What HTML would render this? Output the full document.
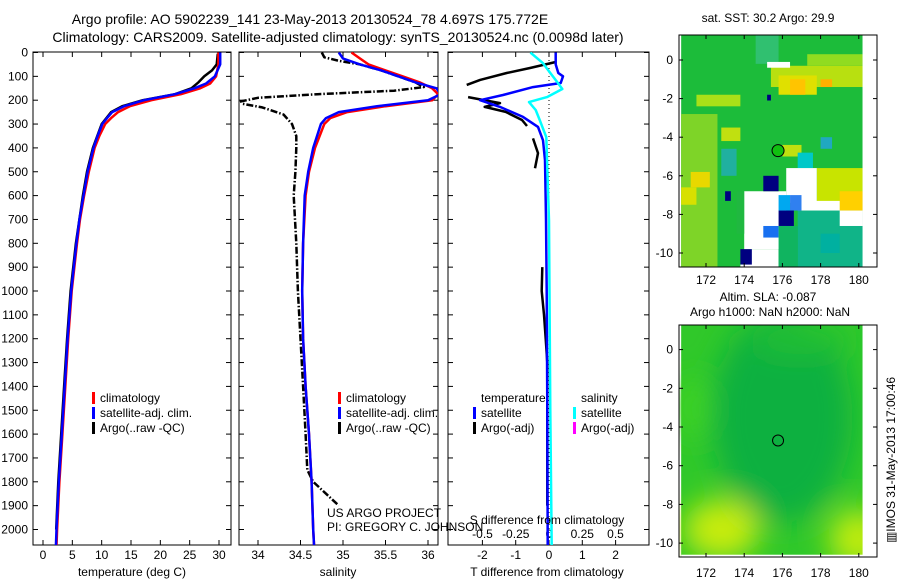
<!DOCTYPE html>
<html><head><meta charset="utf-8"><style>
body{margin:0;background:#fff}
svg{display:block;font-family:"Liberation Sans",sans-serif}
text{fill:#000}
</style></head><body>
<svg id="s" width="900" height="580" viewBox="0 0 900 580">
<defs>
<clipPath id="c1"><rect x="33" y="52" width="198" height="493"/></clipPath>
<clipPath id="c2"><rect x="239" y="52" width="199" height="493"/></clipPath>
<clipPath id="c3"><rect x="448" y="52" width="201" height="493"/></clipPath>
<clipPath id="cm1"><rect x="679" y="35" width="198" height="232"/></clipPath>
<clipPath id="cm2"><rect x="679" y="325" width="198" height="232"/></clipPath>
<filter id="blur" x="-50%" y="-50%" width="200%" height="200%"><feGaussianBlur stdDeviation="14"/></filter>
</defs>
<text x="310" y="24" font-size="14" text-anchor="middle">Argo profile: AO 5902239_141 23-May-2013 20130524_78 4.697S 175.772E</text>
<text x="338" y="42" font-size="14" text-anchor="middle">Climatology: CARS2009. Satellite-adjusted climatology: synTS_20130524.nc (0.0098d later)</text>
<g id="g1"></g>
<g id="g2"></g>
<g id="g3"></g>
<g id="m1"></g>
<g id="m2"></g>
<text x="768" y="22" font-size="12" text-anchor="middle">sat. SST: 30.2 Argo: 29.9</text>
<text x="768" y="301" font-size="12" text-anchor="middle">Altim. SLA: -0.087</text>
<text x="770" y="316" font-size="12" text-anchor="middle">Argo h1000: NaN h2000: NaN</text>
<text transform="translate(895,460) rotate(-90)" font-size="12" text-anchor="middle">▥IMOS 31-May-2013 17:00:46</text>
<text x="327" y="517" font-size="12">US ARGO PROJECT</text>
<text x="327" y="531" font-size="12">PI: GREGORY C. JOHNSON</text>
</svg>
<script>
// ---- data ----
const depthTicks=[0,100,200,300,400,500,600,700,800,900,1000,1100,1200,1300,1400,1500,1600,1700,1800,1900,2000];
const tempTicks=[0,5,10,15,20,25,30];
const salTicks=[34,34.5,35,35.5,36];
const salTickLabels=["34","34.5","35","35.5","36"];
const tdTicks=[-2,-1,0,1,2];
const sdTicks=[-0.5,-0.25,0,0.25,0.5];
const sdTickLabels=["-0.5","-0.25","0","0.25","0.5"];

const climTDepth=[0,50,100,130,150,175,200,225,250,275,300,350,400,500,600,700,800,1000,1200,1400,1600,1800,2000,2070];
const climT=[29.9,29.9,29.5,28.5,26.8,23.5,18.5,14.8,12.8,11.6,10.6,9.6,8.8,7.8,7.0,6.3,5.8,4.9,4.3,3.8,3.3,2.8,2.4,2.3];
const satT=[30.2,30.2,29.3,27.8,25.8,22.5,17.2,13.8,11.8,10.9,10.1,9.3,8.6,7.6,6.9,6.2,5.7,4.8,4.2,3.7,3.2,2.7,2.3,2.2];
const argoTDepth=[5,50,75,100,125,150,175,200,225,250,300,400,500,600,800,1000,1200,1400,1600,1800,2000];
const argoT=[29.8,29.6,28.8,27.5,26.5,25.3,22.5,17.0,13.5,11.6,10.0,8.5,7.5,6.8,5.6,4.7,4.1,3.6,3.1,2.6,2.25];

const climSDepth=[0,25,50,75,100,125,150,175,200,225,250,275,300,400,500,600,800,1000,1200,1400,1600,1800,2000,2070];
const climS=[35.1,35.2,35.3,35.5,35.7,35.9,36.05,36.12,36.05,35.5,35.05,34.85,34.78,34.67,34.6,34.56,34.53,34.52,34.53,34.56,34.6,34.63,34.65,34.66];
const satS=[34.95,35.0,35.2,35.45,35.65,35.85,36.1,36.15,36.0,35.4,34.95,34.8,34.74,34.65,34.59,34.55,34.53,34.52,34.53,34.56,34.6,34.63,34.65,34.66];
const argoSDepth=[0,20,35,50,75,100,125,145,160,175,190,205,215,230,260,300,350,400,500,600,800,1000,1200,1400,1600,1750,1800,1850,1900];
const argoS=[34.75,34.78,34.95,35.2,35.45,35.65,35.85,35.95,35.6,34.7,34.0,33.8,33.82,34.05,34.3,34.4,34.45,34.45,34.44,34.42,34.45,34.47,34.5,34.53,34.56,34.58,34.65,34.8,34.95];

const satTdDepth=[0,50,86,100,128,145,178,200,228,270,312,368,452,700,1000,1500,2070];
const satTd=[0.2,0.2,0.28,0.42,0.35,-0.48,-1.38,-2.07,-1.47,-0.78,-0.33,-0.18,-0.12,-0.09,-0.07,-0.05,-0.04];
const argoTdDepth=[40,65,86,115,136,160,187,212,228,249,283,308,340,360,422,485,520,900,1000,1100,1200,1300,1900];
const argoTd=[0.2,-0.57,-1.27,-2.07,-2.47,NaN,-2.43,-1.47,-1.93,-1.3,-0.81,-0.66,NaN,-0.48,-0.33,-0.42,NaN,-0.2,-0.22,-0.15,-0.1,-0.05,-0.05];
const satSdDepth=[0,45,86,123,153,187,208,241,283,355,704,1500,2070];
const satSd=[-0.14,-0.045,0.01,0.06,0.1,-0.015,-0.15,-0.1,-0.07,-0.02,0,0.01,0.02];

const lonTicks=[172,174,176,178,180];
const latTicks=[0,-2,-4,-6,-8,-10];
const argoLon=175.772, argoLat=-4.697;

// ---- helpers ----
const NS="http://www.w3.org/2000/svg";
function mk(p,tag,at,txt){const e=document.createElementNS(NS,tag);for(const k in at)e.setAttribute(k,at[k]);if(txt!==undefined)e.textContent=txt;p.appendChild(e);return e;}
const yD=d=>52.5+d*0.2385;
const xT=t=>43+t*5.867;
const xS=s=>258+(s-34)*85;
const xTd=t=>549+t*33.3;
const xSd=s=>549+s*133;
const lonX=l=>706+(l-172)*19.1;
const latY1=l=>60-l*19.3;
const latY2=l=>427-(l+4)*19.35;

function pathOf(depths,vals,fx){let d="",pen=false;for(let i=0;i<depths.length;i++){if(isNaN(vals[i])){pen=false;continue;}d+=(pen?"L":"M")+fx(vals[i]).toFixed(1)+","+yD(depths[i]).toFixed(1);pen=true;}return d;}

function frame(g,x0,x1,name){
  const r=mk(g,"rect",{x:x0,y:52,width:x1-x0,height:493,fill:"none",stroke:"#000","stroke-width":1});
  
  
}
function xticks(g,vals,labels,fx,x0,x1,ylab,name){
  vals.forEach((v,i)=>{const x=fx(v);
    mk(g,"line",{x1:x,x2:x,y1:545,y2:540,stroke:"#000"});mk(g,"line",{x1:x,x2:x,y1:52,y2:57,stroke:"#000"});
    if(ylab){const t=mk(g,"text",{x:x,y:ylab,"font-size":12,"text-anchor":"middle"},labels[i]);
      
      }
  });
}
function yticks(g,x0,x1,labels){
  depthTicks.forEach(d=>{const y=yD(d);
    mk(g,"line",{x1:x0,x2:x0+5,y1:y,y2:y,stroke:"#000"});mk(g,"line",{x1:x1,x2:x1-5,y1:y,y2:y,stroke:"#000"});
    if(labels){const t=mk(g,"text",{x:28,y:y+4,"font-size":12,"text-anchor":"end"},String(d));
      
      }
  });
}
function line(g,clip,depths,vals,fx,col,w,name,dash){
  const p=mk(g,"path",{d:pathOf(depths,vals,fx),fill:"none",stroke:col,"stroke-width":w,"clip-path":"url(#"+clip+")","stroke-linejoin":"round"});
  if(dash)p.setAttribute("stroke-dasharray",dash);
  
  
}
function legend(g,x,y,items){
  items.forEach((it,i)=>{const yy=y+i*15;
    if(it[1])mk(g,"rect",{x:x,y:yy-10,width:3,height:12,fill:it[1]});
    const t=mk(g,"text",{x:x+8,y:yy,"font-size":12},it[0]);
    
    
  });
}

// ---- panel 1 ----
const g1=document.getElementById("g1");
frame(g1,33,231,"temperature");
yticks(g1,33,231,true);
xticks(g1,tempTicks,tempTicks.map(String),xT,33,231,559,"temperature");
line(g1,"c1",argoTDepth,argoT,xT,"#000",2.5,"argo-temperature-line");
line(g1,"c1",climTDepth,climT,xT,"#f00",2.5,"climatology-temperature-line");
line(g1,"c1",climTDepth,satT,xT,"#00f",2.5,"satellite-temperature-line");
legend(g1,92,402,[["climatology","#f00"],["satellite-adj. clim.","#00f"],["Argo(..raw -QC)","#000"]]);
mk(g1,"text",{x:132,y:576,"font-size":12,"text-anchor":"middle"},"temperature (deg C)");

// ---- panel 2 ----
const g2=document.getElementById("g2");
frame(g2,239,438,"salinity");
yticks(g2,239,438,false);
xticks(g2,salTicks,salTickLabels,xS,239,438,559,"salinity");
line(g2,"c2",argoSDepth,argoS,xS,"#000",2.5,"argo-salinity-line","7,2,1.5,2");
line(g2,"c2",climSDepth,climS,xS,"#f00",2.5,"climatology-salinity-line");
line(g2,"c2",climSDepth,satS,xS,"#00f",2.5,"satellite-salinity-line");
legend(g2,338,402,[["climatology","#f00"],["satellite-adj. clim.","#00f"],["Argo(..raw -QC)","#000"]]);
mk(g2,"text",{x:338,y:576,"font-size":12,"text-anchor":"middle"},"salinity");

// ---- panel 3 ----
const g3=document.getElementById("g3");
frame(g3,448,649,"difference");
yticks(g3,448,649,false);
xticks(g3,tdTicks,tdTicks.map(String),xTd,448,649,559,"t-difference");
sdTicks.forEach((v,i)=>{const t=mk(g3,"text",{x:xSd(v),y:538,"font-size":12,"text-anchor":"middle"},sdTickLabels[i]);
  
  });
mk(g3,"line",{x1:xTd(0),x2:xTd(0),y1:52,y2:545,stroke:"#000","stroke-dasharray":"1,3"});
line(g3,"c3",argoTdDepth,argoTd,xTd,"#000",2.5,"argo-t-difference-line");
line(g3,"c3",satTdDepth,satTd,xTd,"#00f",2.5,"satellite-t-difference-line");
line(g3,"c3",satSdDepth,satSd,xSd,"#0ff",2.5,"satellite-s-difference-line");
legend(g3,473,402,[["temperature",null],["satellite","#00f"],["Argo(-adj)","#000"]]);
legend(g3,573,402,[["salinity",null],["satellite","#0ff"],["Argo(-adj)","#f0f"]]);
mk(g3,"text",{x:547,y:524,"font-size":12,"text-anchor":"middle"},"S difference from climatology");
mk(g3,"text",{x:547,y:576,"font-size":12,"text-anchor":"middle"},"T difference from climatology");

// ---- maps ----
function mapAxes(g,top,bot,latY,labY){
  const r=mk(g,"rect",{x:679,y:top,width:198,height:bot-top,fill:"none",stroke:"#000"});
  
  
  lonTicks.forEach(l=>{const x=lonX(l);mk(g,"line",{x1:x,x2:x,y1:top,y2:top+4,stroke:"#000"});mk(g,"line",{x1:x,x2:x,y1:bot,y2:bot-4,stroke:"#000"});
    const t=mk(g,"text",{x:x,y:labY,"font-size":12,"text-anchor":"middle"},String(l));
    
    });
  latTicks.forEach(l=>{const y=latY(l);mk(g,"line",{x1:679,x2:683,y1:y,y2:y,stroke:"#000"});mk(g,"line",{x1:877,x2:873,y1:y,y2:y,stroke:"#000"});
    const t=mk(g,"text",{x:673,y:y+4,"font-size":12,"text-anchor":"end"},String(l));
    
    });
}
function box(g,ly,lo0,lo1,la0,la1,col,clip){mk(g,"rect",{x:lonX(lo0),y:ly(la0),width:lonX(lo1)-lonX(lo0),height:ly(la1)-ly(la0),fill:col,"clip-path":"url(#"+clip+")"});}

const m1=document.getElementById("m1");
const sstPatches=[
 [170.7,180.2,1.3,-10.7,"#1cbc3a"],
 [170.7,172.6,-2.8,-10.7,"#7ed428"],[171.2,172.2,-5.8,-6.6,"#e8d800"],[170.7,171.5,-6.6,-7.5,"#d8e000"],
 [172.8,173.8,-3.5,-4.2,"#c0e010"],[171.5,173.8,-1.8,-2.4,"#a8e018"],
 [175.4,180.2,-0.3,-1.4,"#b8e010"],[175.8,177.8,-0.8,-1.8,"#e0e000"],[176.4,177.2,-1.0,-1.8,"#ffc400"],[178.0,178.6,-1.0,-1.4,"#ffb000"],
 [177.3,180.2,0.3,-0.3,"#90dc20"],
 [176.0,177.0,-4.4,-5.0,"#c0e010"],[176.8,177.6,-4.8,-5.6,"#00c8c8"],[178.0,178.6,-4.0,-4.6,"#20a8c0"],
 [177.8,180.2,-5.6,-7.8,"#c8e400"],[179.0,180.2,-6.8,-7.8,"#ffd000"],
 [176.8,180.2,-7.8,-10.7,"#10b488"],[178.0,179.0,-9.0,-10.0,"#00b0a0"],
 [172.8,173.6,-4.6,-6.0,"#20b0a0"],[174.6,175.8,1.3,-0.2,"#30c070"],
 [174.0,176.2,-6.8,-9.8,"#ffffff"],[176.2,177.8,-5.6,-7.4,"#ffffff"],[176.8,179.0,-7.3,-7.8,"#ffffff"],[179.0,180.2,-7.8,-8.6,"#ffffff"],
 [175.2,176.4,-0.1,-0.4,"#ffffff"],[180.2,181,1.3,-10.7,"#ffffff"],
 [174.0,175.8,-9.8,-10.7,"#ffffff"],
 [175.8,176.4,-7.0,-7.8,"#00a8f0"],[176.4,177.0,-7.0,-7.8,"#3080f0"],
 [175.0,175.8,-6.0,-6.8,"#000080"],[175.8,176.6,-7.8,-8.6,"#000080"],[173.8,174.4,-9.8,-10.6,"#000080"],[173.0,173.3,-6.8,-7.3,"#000080"],[175.2,175.4,-1.8,-2.1,"#000080"],
 [175.0,175.8,-8.6,-9.2,"#1870f0"],[175.8,176.8,-8.6,-10.7,"#10b460"],[173.6,174.0,-6.8,-9.0,"#20b840"],[173.8,174.0,-10.6,-10.7,"#ffffff"],
];
sstPatches.forEach(p=>box(m1,latY1,p[0],p[1],p[2],p[3],p[4],"cm1"));
const c1=mk(m1,"circle",{cx:lonX(argoLon),cy:latY1(argoLat),r:6,fill:"#10c010",stroke:"#000"});


mapAxes(m1,35,267,latY1,284);

const m2=document.getElementById("m2");
box(m2,latY2,170.7,180.2,1.3,-10.7,"#30c82a","cm2");
const blobs=[[176,-3.5,70,105,"#10b040"],[175.5,-6,45,40,"#08b040"],[172.8,-9.3,38,30,"#c8ec10"],[180,-9.8,30,30,"#c0ec10"],[171.3,-3,15,30,"#40d420"],[177,0.5,50,15,"#20c030"]];
const bg=mk(m2,"g",{"clip-path":"url(#cm2)"});
const bgi=mk(bg,"g",{filter:"url(#blur)"});
blobs.forEach(b=>mk(bgi,"ellipse",{cx:lonX(b[0]),cy:latY2(b[1]),rx:b[2],ry:b[3],fill:b[4]}));
box(m2,latY2,180.2,181,1.3,-10.7,"#fff","cm2");
box(m2,latY2,170.7,181,-10.6,-11,"#fff","cm2");
const c2=mk(m2,"circle",{cx:lonX(argoLon),cy:latY2(argoLat),r:5.5,fill:"none",stroke:"#000"});


mapAxes(m2,325,557,latY2,577);
</script>
</body></html>
